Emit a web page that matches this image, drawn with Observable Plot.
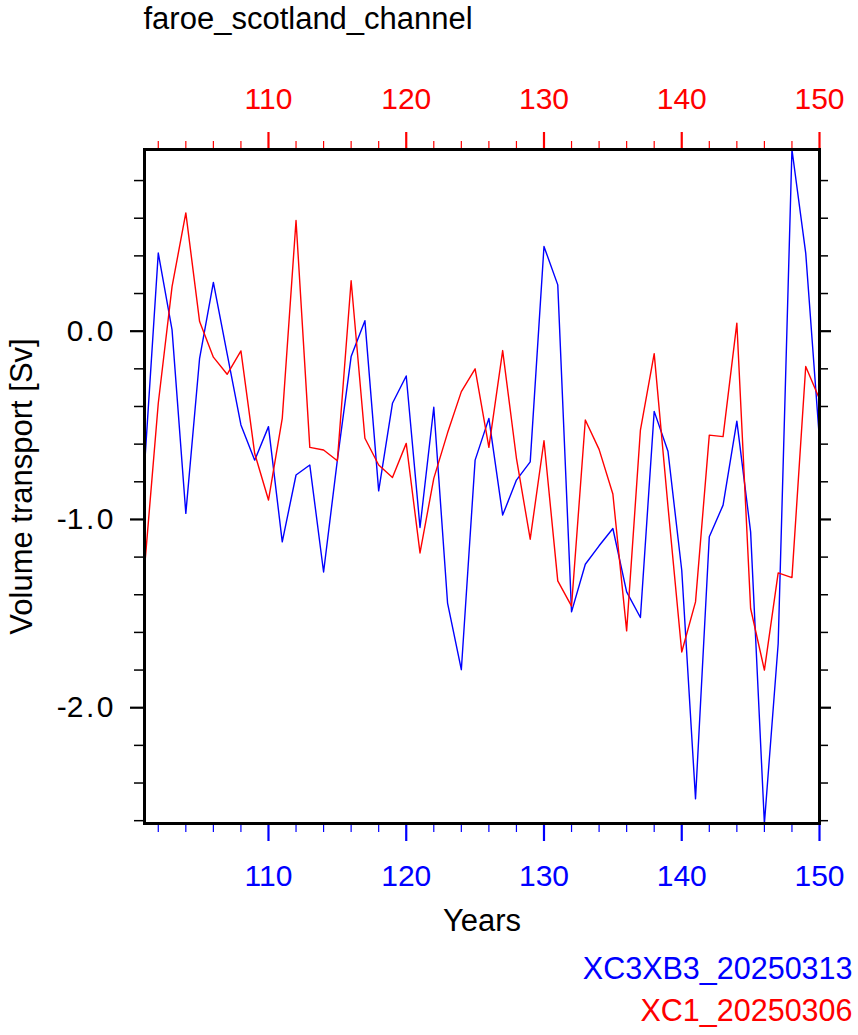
<!DOCTYPE html>
<html>
<head>
<meta charset="utf-8">
<script src="https://cdn.jsdelivr.net/npm/d3@7"></script>
<script src="https://cdn.jsdelivr.net/npm/@observablehq/plot@0.6"></script>
<style>
  body { margin: 0; background: #fff; }
</style>
</head>
<body>
<div id="chart"></div>
<script>
// Annual mean volume transport through the Faroe–Scotland channel (Sv)
const years = [101, 102, 103, 104, 105, 106, 107, 108, 109, 110,
               111, 112, 113, 114, 115, 116, 117, 118, 119, 120,
               121, 122, 123, 124, 125, 126, 127, 128, 129, 130,
               131, 132, 133, 134, 135, 136, 137, 138, 139, 140,
               141, 142, 143, 144, 145, 146, 147, 148, 149, 150];

const xc3xb3 = [-0.72, 0.415, 0.007, -0.968, -0.144, 0.259, -0.12, -0.498, -0.685, -0.507,
                -1.119, -0.764, -0.711, -1.279, -0.685, -0.135, 0.056, -0.848, -0.383, -0.238,
                -1.043, -0.404, -1.444, -1.798, -0.685, -0.463, -0.977, -0.791, -0.694, 0.45,
                0.246, -1.491, -1.238, -1.14, -1.048, -1.385, -1.521, -0.426, -0.638, -1.27,
                -2.484, -1.092, -0.924, -0.478, -1.066, -2.615, -1.66, 0.965, 0.415, -0.578];

const xc1 = [-1.26, -0.383, 0.237, 0.628, 0.051, -0.138, -0.229, -0.105, -0.65, -0.897,
             -0.463, 0.588, -0.617, -0.631, -0.688, 0.268, -0.569, -0.711, -0.777, -0.596,
             -1.178, -0.782, -0.54, -0.321, -0.2, -0.617, -0.103, -0.675, -1.105, -0.582,
             -1.326, -1.46, -0.472, -0.628, -0.865, -1.592, -0.525, -0.119, -0.93, -1.704,
             -1.438, -0.552, -0.56, 0.043, -1.473, -1.80, -1.284, -1.309, -0.188, -0.36];

const seriesNames = ["XC3XB3_20250313", "XC1_20250306"];
const seriesColors = ["#0000ff", "#ff0000"];

const xMajorTicks = [110, 120, 130, 140, 150];
const xMinorTicks = [102, 104, 106, 108, 112, 114, 116, 118, 122, 124, 126, 128,
                     132, 134, 136, 138, 142, 144, 146, 148];
const yMajorTicks = [-2, -1, 0];
const yMinorTicks = [-2.6, -2.4, -2.2, -1.8, -1.6, -1.4, -1.2, -0.8, -0.6, -0.4, -0.2,
                     0.2, 0.4, 0.6, 0.8];

const titleText = "faroe_scotland_channel";
const xTitle = "Years";
const yTitle = "Volume transport [Sv]";

const yDomain = d3.extent([...xc3xb3, ...xc1]);
const fs = 30;      // tick labels
const fsTitle = 31; // titles
const fsLegend = 30.5;

const plot = Plot.plot({
  width: 858,
  height: 1035,
  marginLeft: 144,
  marginRight: 39,
  marginTop: 149,
  marginBottom: 212,
  style: { fontFamily: "'Liberation Sans', Arial, Helvetica, sans-serif", background: "#fff", overflow: "visible" },
  x: { domain: [101, 150] },
  y: { domain: yDomain },
  marks: [
    // bottom axis (blue run)
    Plot.axisX({ anchor: "bottom", ticks: xMinorTicks, tickSize: 9, stroke: seriesColors[0], strokeWidth: 1.2, fill: "none", label: null }),
    Plot.axisX({ anchor: "bottom", ticks: xMajorTicks, tickSize: 18, tickPadding: 23, stroke: seriesColors[0], strokeWidth: 2.2,
                 fill: seriesColors[0], fontSize: fs, tickFormat: d => String(d), label: null }),
    // top axis (red run)
    Plot.axisX({ anchor: "top", ticks: xMinorTicks, tickSize: 9, stroke: seriesColors[1], strokeWidth: 1.2, fill: "none", label: null }),
    Plot.axisX({ anchor: "top", ticks: xMajorTicks, tickSize: 18, tickPadding: 23, stroke: seriesColors[1], strokeWidth: 2.2,
                 fill: seriesColors[1], fontSize: fs, tickFormat: d => String(d), label: null }),
    // left and right value axes
    Plot.axisY({ anchor: "left", ticks: yMinorTicks, tickSize: 10, stroke: "#000", strokeWidth: 1.5, fill: "none", label: null }),
    Plot.axisY({ anchor: "left", ticks: yMajorTicks, tickSize: 14, tickPadding: 17, stroke: "#000", strokeWidth: 2.2,
                 fill: "#000", fontSize: fs, tickFormat: d => d.toFixed(1), label: null }),
    Plot.axisY({ anchor: "right", ticks: yMinorTicks, tickSize: 8, stroke: "#000", strokeWidth: 1.5, fill: "none", label: null }),
    Plot.axisY({ anchor: "right", ticks: yMajorTicks, tickSize: 11, stroke: "#000", strokeWidth: 2.2, fill: "none", label: null }),
    // series
    Plot.line(years, { x: d => d, y: (d, i) => xc3xb3[i], stroke: seriesColors[0], strokeWidth: 1.4 }),
    Plot.line(years, { x: d => d, y: (d, i) => xc1[i], stroke: seriesColors[1], strokeWidth: 1.4 }),
    Plot.frame({ stroke: "#000", strokeWidth: 3 }),
    // titles
    Plot.text([titleText], { text: d => d, frameAnchor: "top-left", textAnchor: "start", lineAnchor: "bottom",
                             dx: -1, dy: -121, fontSize: fsTitle, fill: "#000" }),
    Plot.text([xTitle], { text: d => d, frameAnchor: "bottom", textAnchor: "middle", lineAnchor: "bottom",
                          dy: 107, fontSize: fsTitle, fill: "#000" }),
    Plot.text([yTitle], { text: d => d, frameAnchor: "left", textAnchor: "middle", rotate: -90, lineAnchor: "bottom",
                          dx: -113, fontSize: fsTitle, fill: "#000" }),
    // legend
    Plot.text([seriesNames[0]], { text: d => d, frameAnchor: "bottom-right", textAnchor: "end", lineAnchor: "bottom",
                                  dx: 33, dy: 155, fontSize: fsLegend, fill: seriesColors[0] }),
    Plot.text([seriesNames[1]], { text: d => d, frameAnchor: "bottom-right", textAnchor: "end", lineAnchor: "bottom",
                                  dx: 33, dy: 197, fontSize: fsLegend, fill: seriesColors[1] })
  ]
});

// Slightly wider spacing around the decimal point of the value-axis labels (text unchanged)
d3.select(plot).selectAll("text").each(function () {
  const t = d3.select(this);
  const s = t.text();
  if (!/^-?\d\.\d$/.test(s)) return;
  const [a, b] = s.split(".");
  t.text(null);
  t.append("tspan").text(a);
  t.append("tspan").attr("dx", 2.5).text(".");
  t.append("tspan").attr("dx", 2.5).text(b);
});

document.getElementById("chart").appendChild(plot);
</script>
</body>
</html>
